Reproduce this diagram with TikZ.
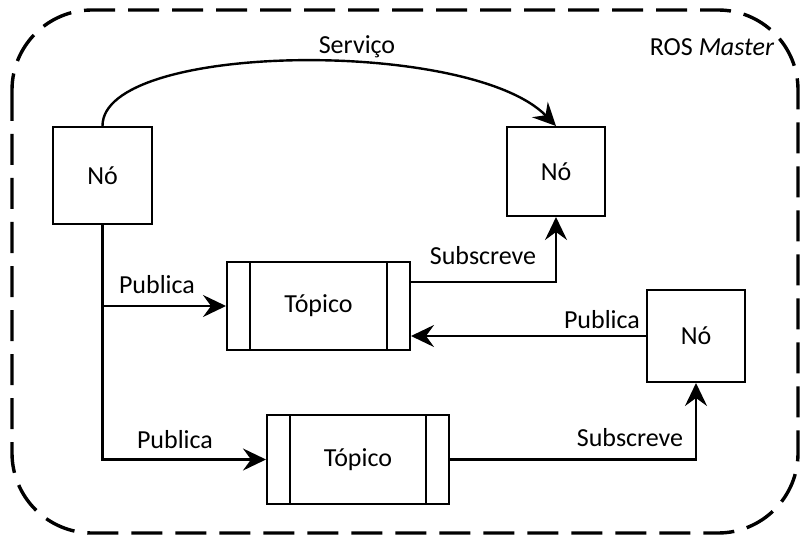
\documentclass[tikz,border=0pt]{standalone}
\usepackage{fontspec}
\setmainfont{Carlito}
\usetikzlibrary{arrows.meta}
\begin{document}
\begin{tikzpicture}[x=1pt,y=-1pt,
  font=\fontsize{26}{31}\selectfont,
  box/.style={draw, line width=2pt, inner sep=0pt},
  arr/.style={line width=2.4pt, -{Stealth[length=23pt,width=22pt,inset=8pt]}},
  lbl/.style={inner sep=0pt}]
\useasboundingbox (0,0) rectangle (802,537);

% ROS Master boundary
\draw[line width=3.4pt, dash pattern=on 31pt off 13pt, rounded corners=80pt]
  (12,10) rectangle (798,533);
\node[lbl] (master) at (712,47) {ROS \textit{Master}};

% nodes
\node[box, minimum width=99pt, minimum height=97pt] (n1) at (102.5,175.5) {Nó};
\node[box, minimum width=98pt, minimum height=89pt] (n2) at (556,171.5) {Nó};
\node[box, minimum width=98pt, minimum height=92pt] (n3) at (696,336) {Nó};

% topics
\node[box, minimum width=183pt, minimum height=88pt] (t1) at (318.5,306) {Tópico};
\node[box, minimum width=182pt, minimum height=89pt] (t2) at (358,459.5) {Tópico};
\foreach \t in {t1,t2}{
  \draw[line width=2pt] ([xshift=24pt]\t.north west) -- ([xshift=24pt]\t.south west);
  \draw[line width=2pt] ([xshift=-24pt]\t.north east) -- ([xshift=-24pt]\t.south east);
}

% service call
\draw[arr] (n1.north) .. controls (102,42) and (470,38) .. (n2.north);
\node[lbl] (lserv) at (357,47) {Serviço};

% publishers
\coordinate (split) at (n1.south |- t1.west);
\draw[arr] (n1.south) |- (t2.west);
\draw[arr] (split) -- (t1.west);
\node[lbl] (lpub1) at (157,285) {Publica};
\node[lbl] (lpub2) at (175,440) {Publica};

\draw[arr] (n3.west) -- (n3.west -| t1.east);
\node[lbl] (lpub3) at (602,320) {Publica};

% subscribers
\coordinate (t1out) at ([yshift=24pt]t1.east);
\draw[arr] (t1out) -| (n2.south);
\node[lbl] (lsub1) at (483,256) {Subscreve};

\draw[arr] (t2.east) -| (n3.south);
\node[lbl] (lsub2) at (630,438) {Subscreve};
\end{tikzpicture}
\end{document}
